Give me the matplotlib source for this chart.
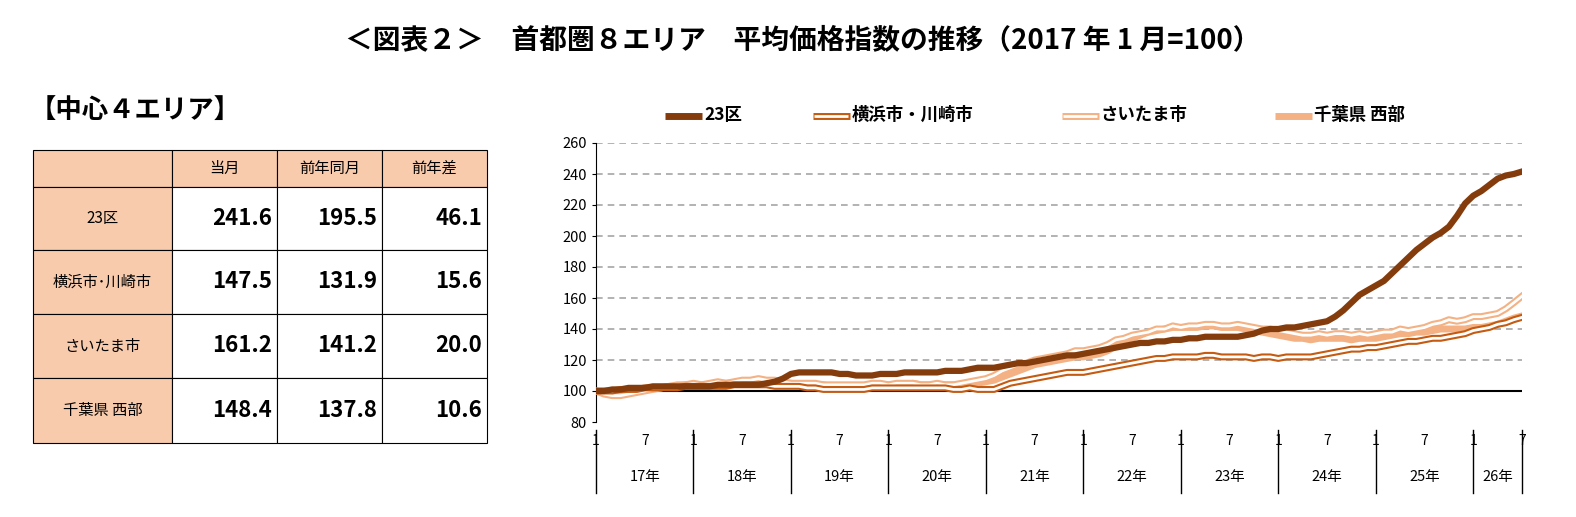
import matplotlib.pyplot as plt
from matplotlib.patches import Rectangle

plt.rcParams['font.family'] = ['Noto Sans CJK JP', 'DejaVu Sans']

# monthly index 2017-01 .. 2026-07
ku23 = [100, 100, 101, 101, 102, 102, 102, 103, 103, 103, 103, 103,
        103, 103, 103, 104, 104, 104, 104, 104, 104, 105, 106, 108,
        111, 112, 112, 112, 112, 112, 111, 111, 110, 110, 110, 111,
        111, 111, 112, 112, 112, 112, 112, 113, 113, 113, 114, 115,
        115, 115, 116, 117, 118, 118, 119, 120, 121, 122, 123, 123,
        124, 125, 126, 127, 128, 129, 130, 131, 131, 132, 132, 133,
        133, 134, 134, 135, 135, 135, 135, 135, 136, 137, 139, 140,
        140, 141, 141, 142, 143, 144, 145, 148, 152, 157, 162, 165,
        168, 171, 176, 181, 186, 191, 195, 199, 202, 206, 213, 221,
        226, 229, 233, 237, 239, 240, 241.6]
yokohama = [100, 100, 100, 101, 101, 101, 102, 102, 102, 102, 102, 103,
            103, 103, 103, 103, 103, 104, 104, 104, 104, 104, 103, 103,
            103, 103, 102, 102, 101, 101, 101, 101, 101, 101, 102, 102,
            102, 102, 102, 102, 102, 102, 102, 102, 101, 101, 102, 101,
            101, 101, 103, 105, 106, 107, 108, 109, 110, 111, 112, 112,
            112, 113, 114, 115, 116, 117, 118, 119, 120, 121, 121, 122,
            122, 122, 122, 123, 123, 122, 122, 122, 122, 121, 122, 122,
            121, 122, 122, 122, 122, 123, 124, 125, 126, 127, 127, 128,
            128, 129, 130, 131, 132, 132, 133, 134, 134, 135, 136, 137,
            139, 140, 141, 143, 144, 146, 147.5]
saitama = [100, 98, 97, 97, 98, 99, 100, 101, 102, 103, 104, 104,
           105, 104, 105, 106, 105, 106, 107, 107, 108, 107, 107, 106,
           105, 105, 105, 105, 104, 104, 104, 104, 104, 104, 105, 105,
           104, 105, 105, 105, 104, 104, 105, 104, 104, 105, 106, 107,
           108, 110, 113, 115, 117, 118, 120, 121, 122, 123, 124, 126,
           126, 127, 128, 130, 133, 134, 136, 137, 138, 140, 140, 142,
           141, 142, 142, 143, 143, 142, 142, 143, 142, 141, 140, 140,
           139, 138, 137, 136, 136, 137, 136, 137, 137, 136, 137, 136,
           137, 138, 138, 140, 139, 140, 141, 143, 144, 146, 145, 146,
           148, 148, 149, 150, 153, 157, 161.2]
chiba = [100, 99, 99, 98, 99, 100, 101, 102, 102, 103, 103, 104,
         104, 104, 104, 105, 105, 105, 105, 106, 106, 106, 105, 105,
         105, 104, 104, 104, 104, 103, 103, 103, 103, 103, 104, 104,
         104, 104, 104, 105, 104, 104, 104, 104, 104, 104, 105, 105,
         106, 107, 109, 111, 113, 115, 117, 118, 119, 120, 121, 122,
         122, 123, 124, 126, 129, 131, 134, 136, 138, 139, 140, 141,
         141, 141, 141, 142, 142, 141, 141, 141, 140, 139, 138, 137,
         136, 135, 134, 134, 133, 134, 134, 134, 134, 133, 134, 134,
         134, 135, 136, 137, 137, 138, 138, 139, 140, 140, 140, 140,
         141, 141, 142, 143, 145, 147, 148.4]

years = ['17年', '18年', '19年', '20年', '21年', '22年', '23年', '24年', '25年', '26年']
row_names = ['23区', '横浜市･川崎市', 'さいたま市', '千葉県 西部']
col_names = ['当月', '前年同月', '前年差']
cur = ['241.6', '147.5', '161.2', '148.4']
prev = ['195.5', '131.9', '141.2', '137.8']
diff = ['46.1', '15.6', '20.0', '10.6']

W, H = 1576, 517
fig = plt.figure(figsize=(W / 100, H / 100), dpi=100)
fig.text(0.5 + 15 / W, 1 - 40 / H, '＜図表２＞　首都圏８エリア　平均価格指数の推移（2017 年 1 月=100）',
         ha='center', va='center', fontsize=20, fontweight='bold')
fig.text(30 / W, 1 - 110 / H, '【中心４エリア】', ha='left', va='center', fontsize=19, fontweight='bold')

# table
tax = fig.add_axes([0, 0, 1, 1])
tax.set_xlim(0, W)
tax.set_ylim(H, 0)
tax.axis('off')
xs = [33, 172, 277, 382, 487]
ys = [150, 187, 250, 314, 378, 443]
fill = '#F8CBAD'
for r in range(5):
    for c in range(4):
        fc = fill if (r == 0 or c == 0) else 'white'
        tax.add_patch(Rectangle((xs[c], ys[r]), xs[c + 1] - xs[c], ys[r + 1] - ys[r],
                                facecolor=fc, edgecolor='black', lw=0.8))
for c, name in enumerate(col_names):
    tax.text((xs[c + 1] + xs[c + 2]) / 2, (ys[0] + ys[1]) / 2, name, ha='center', va='center', fontsize=11)
for r, name in enumerate(row_names):
    yc = (ys[r + 1] + ys[r + 2]) / 2
    tax.text((xs[0] + xs[1]) / 2, yc, name, ha='center', va='center', fontsize=11)
    for c, v in enumerate([cur[r], prev[r], diff[r]]):
        tax.text(xs[c + 2] - 5, yc, v, ha='right', va='center', fontsize=16, fontweight='bold')

# line chart
x0, x1, yt, yb = 596, 1522, 143, 422
ax = fig.add_axes([x0 / W, 1 - yb / H, (x1 - x0) / W, (yb - yt) / H])
n = len(ku23)
xi = list(range(n))
ax.set_xlim(0, n - 1)
ax.set_ylim(80, 260)
ax.set_yticks(range(80, 261, 20))
ax.tick_params(axis='y', labelsize=10.5, length=3)
ax.set_xticks([])
for s in ['top', 'right', 'bottom']:
    ax.spines[s].set_visible(False)
for v in range(120, 261, 20):
    ax.axhline(v, color='#A6A6A6', ls=(0, (4, 3)), lw=1.2, zorder=0)
ax.axhline(100, color='black', lw=1.5, zorder=1)

c23, cyk, csa, cch = '#843C0C', '#C55A11', '#F4B183', '#F4B183'
ax.plot(xi, chiba, color=cch, lw=5, zorder=2)
ax.plot(xi, saitama, color=csa, lw=5, zorder=3)
ax.plot(xi, saitama, color='white', lw=2, zorder=3)
ax.plot(xi, yokohama, color=cyk, lw=5, zorder=4)
ax.plot(xi, yokohama, color='white', lw=2, zorder=4)
ax.plot(xi, ku23, color=c23, lw=4.5, zorder=5)

# x category labels
lax = fig.add_axes([0, 0, 1, 1], facecolor='none')
lax.set_xlim(0, W)
lax.set_ylim(H, 0)
lax.axis('off')
px = (x1 - x0) / (n - 1)
for i in range(n):
    if i % 6 == 0:
        lax.text(x0 + i * px, 441, str(i % 12 + 1), ha='center', va='center', fontsize=10)
for k, y in enumerate(years):
    lax.plot([x0 + 12 * k * px] * 2, [430, 493], color='black', lw=1)
    end = min(12 * (k + 1), n - 1)
    lax.text(x0 + (12 * k + end) / 2 * px, 477, y, ha='center', va='center', fontsize=10.5)
lax.plot([x1, x1], [430, 493], color='black', lw=1)

# legend
items = [('23区', c23, 'solid'), ('横浜市・川崎市', cyk, 'double'),
         ('さいたま市', csa, 'double'), ('千葉県 西部', cch, 'thick')]
lx = [665, 813, 1062, 1275]
for (lab, col, st), x in zip(items, lx):
    lax.plot([x, x + 37], [116, 116], color=col, lw=5, solid_capstyle='butt')
    if st == 'double':
        lax.plot([x + 1.5, x + 35.5], [116, 116], color='white', lw=2, solid_capstyle='butt')
    lax.text(x + 39, 115, lab, ha='left', va='center', fontsize=12.5, fontweight='bold')

fig.savefig('out.png', dpi=100)
